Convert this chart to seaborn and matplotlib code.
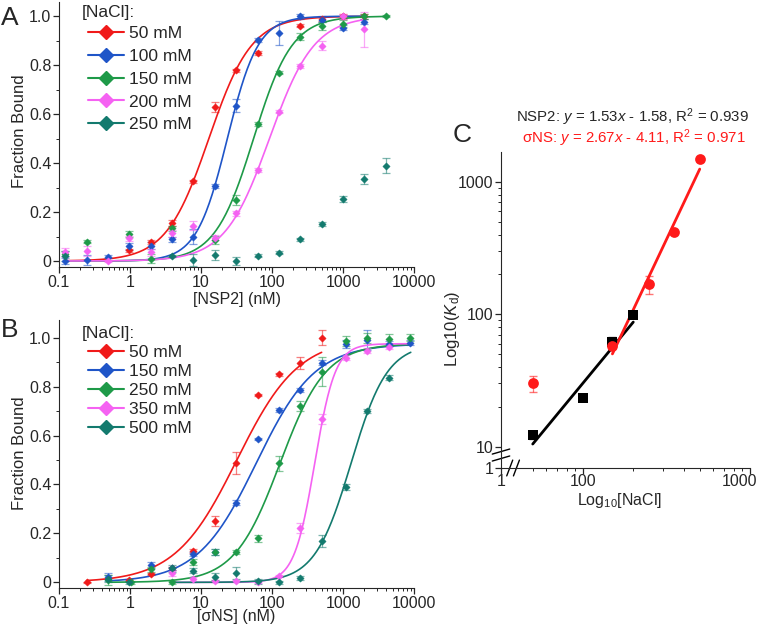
import numpy as np
import pandas as pd
import matplotlib
matplotlib.use("Agg")
import matplotlib.pyplot as plt
from matplotlib.lines import Line2D
from matplotlib.ticker import FixedLocator, NullFormatter, LogLocator
from matplotlib.transforms import ScaledTranslation
import seaborn as sns

# datos panel A: [NSP2] (nM) vs fraccion unida
a_labels = ["50 mM", "100 mM", "150 mM", "200 mM", "250 mM"]
a_x = [
    [0.977, 1.95, 3.9, 7.8, 15.6, 31.25, 62.5, 250, 500, 1000, 2000],
    [0.122, 0.244, 0.488, 0.977, 1.95, 3.9, 7.8, 15.6, 31.25, 62.5, 125, 250, 500, 1000, 2000],
    [0.122, 0.244, 0.977, 1.95, 3.9, 15.6, 31.25, 62.5, 125, 250, 500, 1000, 2000, 4000],
    [0.122, 0.244, 0.488, 0.977, 1.95, 3.9, 7.8, 15.6, 31.25, 62.5, 125, 250, 500, 1000, 2000],
    [0.122, 3.9, 7.8, 15.6, 31.25, 62.5, 125, 250, 500, 1000, 2000, 4000],
]
a_y = [
    [0.043, 0.076, 0.157, 0.325, 0.63, 0.78, 0.85, 0.962, 0.99, 1.0, 1.0],
    [0.0, 0.005, 0.018, 0.06, 0.063, 0.088, 0.1, 0.305, 0.635, 0.902, 0.932, 1.0, 0.985, 0.953, 0.977],
    [0.03, 0.079, 0.11, 0.01, 0.133, 0.086, 0.25, 0.56, 0.77, 0.916, 0.96, 0.97, 1.0, 1.0],
    [0.035, 0.042, 0.0, 0.093, 0.035, 0.113, 0.145, 0.095, 0.195, 0.37, 0.61, 0.797, 0.88, 1.0, 0.946],
    [0.02, 0.02, 0.003, 0.024, 0.0, 0.022, 0.034, 0.088, 0.151, 0.255, 0.335, 0.39],
]
a_err = [
    [0.008, 0.008, 0.012, 0.006, 0.02, 0.006, 0.008, 0.008, 0.01, 0.01, 0.01],
    [0.012, 0.02, 0.005, 0.015, 0.015, 0.012, 0.03, 0.008, 0.025, 0.008, 0.05, 0.01, 0.01, 0.01, 0.01],
    [0.01, 0.005, 0.012, 0.02, 0.012, 0.015, 0.02, 0.008, 0.008, 0.015, 0.015, 0.015, 0.01, 0.005],
    [0.02, 0.02, 0.005, 0.01, 0.015, 0.015, 0.02, 0.01, 0.01, 0.008, 0.005, 0.008, 0.02, 0.01, 0.07],
    [0.02, 0.005, 0.025, 0.02, 0.015, 0.005, 0.005, 0.005, 0.01, 0.012, 0.02, 0.03],
]
# parametros de ajuste (Kd, n, maximo, rango)
a_kd = [12.9, 23.5, 55, 92, None]
a_hill = [1.44, 2.0, 1.6, 1.38, None]
a_top = [1.0, 1.0, 1.0, 1.0, None]
a_range = [(0.122, 2000), (0.122, 2000), (0.122, 4000), (0.122, 2000), None]

# datos panel B: [sigmaNS] (nM)
b_labels = ["50 mM", "150 mM", "250 mM", "350 mM", "500 mM"]
b_x = [
    [0.244, 0.977, 1.95, 3.9, 7.8, 15.6, 31.25, 62.5, 125, 250, 500],
    [0.488, 1.95, 3.9, 7.8, 15.6, 31.25, 62.5, 125, 250, 500, 1100, 2200, 4400, 8800],
    [0.488, 1.03, 1.95, 3.9, 7.8, 15.6, 31.25, 62.5, 125, 250, 500, 1100, 2200, 4400, 8800],
    [3.9, 7.8, 15.6, 31.25, 62.5, 125, 250, 500, 1100, 2200, 4400],
    [0.488, 0.977, 3.9, 7.8, 15.6, 31.25, 62.5, 125, 250, 500, 1100, 2200, 4400],
]
b_y = [
    [0.0, 0.01, 0.034, 0.057, 0.128, 0.25, 0.489, 0.766, 0.85, 0.895, 1.0],
    [0.022, 0.07, 0.057, 0.116, 0.125, 0.325, 0.585, 0.704, 0.786, 0.898, 0.974, 0.99, 0.975, 0.98],
    [0.01, 0.0, 0.054, 0.0, 0.084, 0.123, 0.125, 0.18, 0.486, 0.72, 0.861, 0.987, 1.0, 0.995, 1.0],
    [0.038, 0.012, 0.005, 0.005, 0.003, 0.026, 0.223, 0.666, 0.918, 0.947, 0.963],
    [0.015, 0.0, 0.057, 0.047, 0.023, 0.039, 0.005, 0.0, 0.016, 0.17, 0.39, 0.70, 0.836],
]
b_err = [
    [0.003, 0.005, 0.005, 0.005, 0.008, 0.02, 0.045, 0.005, 0.005, 0.025, 0.03],
    [0.015, 0.012, 0.005, 0.01, 0.012, 0.01, 0.005, 0.008, 0.008, 0.01, 0.015, 0.04, 0.01, 0.01],
    [0.02, 0.005, 0.01, 0.005, 0.012, 0.012, 0.008, 0.015, 0.03, 0.02, 0.06, 0.02, 0.02, 0.02, 0.015],
    [0.01, 0.01, 0.005, 0.005, 0.005, 0.005, 0.02, 0.02, 0.01, 0.01, 0.01],
    [0.015, 0.005, 0.015, 0.01, 0.015, 0.025, 0.01, 0.005, 0.008, 0.025, 0.012, 0.01, 0.01],
]
b_kd = [32, 60, 130, 400, 1300]
b_hill = [1.0, 1.05, 1.35, 3.0, 1.7]
b_top = [1.0, 0.975, 0.975, 0.975, 0.975]
b_range = [(0.244, 500), (0.488, 9000), (0.488, 9000), (3.9, 9000), (3.9, 9000)]

# datos panel C: Kd vs [NaCl]
c_nsp2_nacl = [50, 100, 150, 200]
c_nsp2_kd = [12.3, 23.3, 62, 98]
c_nsp2_err = [0.8, 1.0, 5, 3]
c_sns_nacl = [50, 150, 250, 350, 500]
c_sns_kd = [30, 58, 168, 420, 1480]
c_sns_err = [4, 3, 27, 15, 40]
c_nsp2_fit = (1.53, -1.58)
c_sns_fit = (2.67, -4.11)

colores = ["#f01a1a", "#1f55c8", "#1e9a48", "#f562f2", "#137a6e"]

sns.set_style("ticks")
plt.rcParams["font.family"] = ["Liberation Sans", "DejaVu Sans"]
plt.rcParams["mathtext.fontset"] = "custom"
plt.rcParams["mathtext.rm"] = "Liberation Sans"
plt.rcParams["mathtext.it"] = "Liberation Sans:italic"

W, H = 758, 628


def hill(x, kd, n, top):
    x = np.asarray(x)
    return top * x ** n / (kd ** n + x ** n)


def panel_union(ax, xs, ys, errs, kds, ns, tops, rangos, labels, xlabel, ylim,
                titulo_y, fila1_y, espacio):
    for i in range(len(xs)):
        c = colores[i]
        if kds[i] is not None:
            xx = np.logspace(np.log10(rangos[i][0]), np.log10(rangos[i][1]), 300)
            curva = pd.DataFrame({"x": xx, "y": hill(xx, kds[i], ns[i], tops[i])})
            sns.lineplot(data=curva, x="x", y="y", color=c, lw=1.2, ax=ax)
        ax.errorbar(xs[i], ys[i], yerr=errs[i], fmt="none", ecolor=c,
                    alpha=0.55, elinewidth=0.9, capsize=3, capthick=0.9)
        pts = pd.DataFrame({"x": xs[i], "y": ys[i]})
        sns.scatterplot(data=pts, x="x", y="y", color=c, marker="D", s=14,
                        edgecolor=c, linewidth=0.3, ax=ax, zorder=5)
    ax.set_xscale("log")
    ax.set_xlim(0.1, 10000)
    ax.set_ylim(*ylim)
    ax.set_xticks([0.1, 1, 10, 100, 1000, 10000])
    ax.set_xticklabels(["0.1", "1", "10", "100", "1000", "10000"])
    ax.xaxis.set_minor_locator(LogLocator(base=10, subs=np.arange(2, 10)))
    ax.xaxis.set_minor_formatter(NullFormatter())
    ax.set_yticks([0, 0.2, 0.4, 0.6, 0.8, 1.0])
    ax.set_yticklabels(["0", "0.2", "0.4", "0.6", "0.8", "1.0"])
    ax.yaxis.set_minor_locator(FixedLocator([0.1, 0.3, 0.5, 0.7, 0.9]))
    ax.set_xlabel(xlabel, fontsize=11.5)
    ax.set_ylabel("Fraction Bound", fontsize=12)
    ax.tick_params(axis="both", which="major", labelsize=11.5, length=4, width=0.9,
                   direction="out", pad=1.5)
    ax.tick_params(axis="both", which="minor", length=2.2, width=0.7, direction="out")
    sns.despine(ax=ax)
    ax.text(82 / W, 1 - titulo_y / H, "[NaCl]:", transform=ax.figure.transFigure,
            fontsize=12.5, ha="left", va="center")
    handles = [Line2D([0], [0], color=colores[i], lw=1.5, marker="D", markersize=7.5)
               for i in range(len(labels))]
    ax.legend(handles, labels, loc="upper left",
              bbox_to_anchor=(88 / W, 1 - (fila1_y - 8) / H),
              bbox_transform=ax.figure.transFigure, frameon=False, fontsize=12.5,
              handlelength=2.05, labelspacing=espacio, handletextpad=0.3,
              borderaxespad=0, borderpad=0)


fig = plt.figure(figsize=(W / 100, H / 100), dpi=100)

ax_a = fig.add_axes([59 / W, 1 - 267 / H, 355 / W, 265 / H])
panel_union(ax_a, a_x, a_y, a_err, a_kd, a_hill, a_top, a_range, a_labels,
            "[NSP2] (nM)", (-0.0245, 1.058), 12, 34, 0.44)
ax_a.xaxis.set_label_coords(0.5, (267 - 292) / 265)
ax_a.yaxis.set_label_coords((27 - 59) / 355, (267 - 131) / 265)

ax_b = fig.add_axes([59 / W, 1 - 588 / H, 355 / W, 268 / H])
panel_union(ax_b, b_x, b_y, b_err, b_kd, b_hill, b_top, b_range, b_labels,
            "[σNS] (nM)", (-0.023, 1.072), 333, 353, 0.22)
ax_b.xaxis.set_label_coords(0.5, (588 - 609) / 268)
ax_b.yaxis.set_label_coords((27 - 59) / 355, (588 - 453) / 268)

# panel C
ax_c = fig.add_axes([501 / W, 1 - 468 / H, 249 / W, 316 / H])
for (m, b), rango, col in [(c_nsp2_fit, (50, 200), "black"), (c_sns_fit, (150, 500), "#ff1a1a")]:
    xx = np.logspace(np.log10(rango[0]), np.log10(rango[1]), 50)
    linea = pd.DataFrame({"x": xx, "y": 10 ** (m * np.log10(xx) + b)})
    sns.lineplot(data=linea, x="x", y="y", color=col, lw=2, ax=ax_c)
ax_c.errorbar(c_nsp2_nacl, c_nsp2_kd, yerr=c_nsp2_err, fmt="none", ecolor="black",
              alpha=0.6, elinewidth=0.9, capsize=3)
ax_c.errorbar(c_sns_nacl, c_sns_kd, yerr=c_sns_err, fmt="none", ecolor="#ff1a1a",
              alpha=0.6, elinewidth=0.9, capsize=3)
sns.scatterplot(x=c_nsp2_nacl, y=c_nsp2_kd, color="black", marker="s", s=45,
                edgecolor="black", linewidth=0, ax=ax_c, zorder=5)
sns.scatterplot(x=c_sns_nacl, y=c_sns_kd, color="#ff1a1a", marker="o", s=60,
                edgecolor="#ff1a1a", linewidth=0, ax=ax_c, zorder=5)
ax_c.set_xscale("log")
ax_c.set_yscale("log")
x0 = 10 ** (2 - 82 / 167)
y0 = 10 ** (1 - 21.5 / 133)
ax_c.set_xlim(x0, 1000)
ax_c.set_ylim(y0, 1680)
ax_c.set_xticks([x0, 100, 1000])
ax_c.set_xticklabels(["1", "100", "1000"])
ax_c.xaxis.set_minor_locator(FixedLocator([50, 60, 70, 80, 90, 200, 300, 400, 500, 600, 700, 800, 900]))
ax_c.xaxis.set_minor_formatter(NullFormatter())
ax_c.set_yticks([y0, 10, 100, 1000])
ax_c.set_yticklabels(["1", "10", "100", "1000"])
ax_c.yaxis.set_minor_locator(FixedLocator([20, 30, 40, 50, 60, 70, 80, 90,
                                           200, 300, 400, 500, 600, 700, 800, 900]))
ax_c.yaxis.set_minor_formatter(NullFormatter())
ax_c.tick_params(axis="both", which="major", labelsize=11.5, length=4, width=0.9,
                 direction="out", pad=1.5)
ax_c.tick_params(axis="x", which="major", pad=0.5)
ax_c.tick_params(axis="both", which="minor", length=2.2, width=0.7, direction="out")
ax_c.set_xlabel("Log$_{10}$[NaCl]", fontsize=11.5)
ax_c.set_ylabel("Log10($K$$_{\\mathrm{d}}$)", fontsize=12)
ax_c.xaxis.set_label_coords((620 - 501) / 249, (468 - 491) / 316)
ax_c.yaxis.set_label_coords((462 - 501) / 249, (468 - 329) / 316)
sns.despine(ax=ax_c)
ultimo = ax_c.get_xticklabels()[-1]
ultimo.set_horizontalalignment("right")
ultimo.set_transform(ultimo.get_transform() + ScaledTranslation(0.07, 0, fig.dpi_scale_trans))

# marcas de corte de eje
for xb in (0.035, 0.062):
    ax_c.plot([xb - 0.012, xb + 0.012], [-0.025, 0.025], transform=ax_c.transAxes,
              color="black", lw=1, clip_on=False)
for yb in (0.03, 0.052):
    ax_c.plot([-0.035, 0.035], [yb - 0.008, yb + 0.008], transform=ax_c.transAxes,
              color="black", lw=1, clip_on=False)

fig.text(632 / W, 1 - 117 / H, "NSP2: $y$ = 1.53$x$ - 1.58, R$^2$ = 0.939",
         ha="center", va="center", fontsize=10.8)
fig.text(634 / W, 1 - 138 / H, "σNS: $y$ = 2.67$x$ - 4.11, R$^2$ = 0.971",
         ha="center", va="center", fontsize=10.8, color="#ff1a1a")

# etiquetas de panel
fig.text(10 / W, 1 - 18 / H, "A", fontsize=19, ha="center", va="center")
fig.text(10 / W, 1 - 330 / H, "B", fontsize=19, ha="center", va="center")
fig.text(462 / W, 1 - 135 / H, "C", fontsize=19, ha="center", va="center")

fig.savefig("out.png", dpi=100)
plt.close()
